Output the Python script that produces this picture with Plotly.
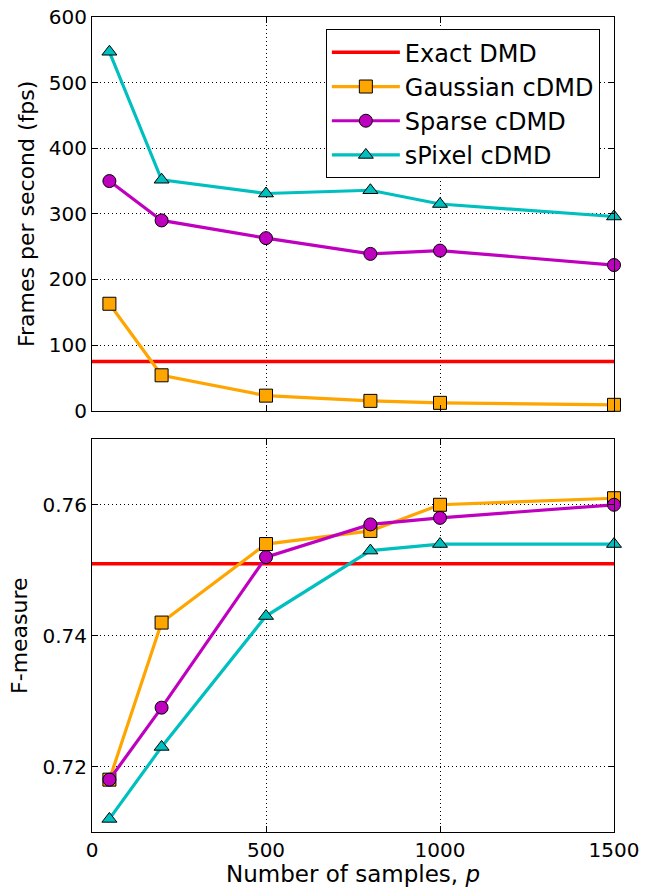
import plotly.graph_objects as go
from plotly.subplots import make_subplots

samples = [50, 200, 500, 800, 1000, 1500]
fps_exact = 75
fps_gaussian = [163, 54, 23, 15, 12, 9]
fps_sparse = [350, 290, 263, 239, 244, 222]
fps_spixel = [547, 352, 331, 336, 315, 296]

f_exact = 0.751
f_gaussian = [0.718, 0.742, 0.754, 0.756, 0.760, 0.761]
f_sparse = [0.718, 0.729, 0.752, 0.757, 0.758, 0.760]
f_spixel = [0.712, 0.723, 0.743, 0.753, 0.754, 0.754]

x_ticks = [0, 500, 1000, 1500]
fps_ticks = [0, 100, 200, 300, 400, 500, 600]
f_ticks = [0.72, 0.74, 0.76]

ORANGE = "#FFA500"
MAGENTA = "#BF00BF"
CYAN = "#00BFBF"
RED = "#FF0000"
FONT = "DejaVu Sans"

fig = make_subplots(rows=2, cols=1, shared_xaxes=False, vertical_spacing=0.035)

series = [
    ("Gaussian cDMD", fps_gaussian, f_gaussian, ORANGE, "square"),
    ("Sparse cDMD", fps_sparse, f_sparse, MAGENTA, "circle"),
    ("sPixel cDMD", fps_spixel, f_spixel, CYAN, "triangle-up"),
]

fig.add_trace(go.Scatter(x=[0, 1500], y=[fps_exact, fps_exact], mode="lines",
                         line=dict(color=RED, width=3.5), name="Exact DMD",
                         legendgroup="exact"), row=1, col=1)
fig.add_trace(go.Scatter(x=[0, 1500], y=[f_exact, f_exact], mode="lines",
                         line=dict(color=RED, width=3.5), name="Exact DMD",
                         legendgroup="exact", showlegend=False), row=2, col=1)

for name, fps, fm, color, sym in series:
    msize = 13
    fig.add_trace(go.Scatter(x=samples, y=fps, mode="lines+markers", name=name,
                             line=dict(color=color, width=3.2),
                             marker=dict(symbol=sym, size=msize, color=color,
                                         line=dict(color="black", width=1)),
                             legendgroup=name, cliponaxis=False), row=1, col=1)
    fig.add_trace(go.Scatter(x=samples, y=fm, mode="lines+markers", name=name,
                             line=dict(color=color, width=3.2),
                             marker=dict(symbol=sym, size=msize, color=color,
                                         line=dict(color="black", width=1)),
                             legendgroup=name, showlegend=False, cliponaxis=False),
                  row=2, col=1)

axis_common = dict(
    showline=True, linecolor="black", linewidth=1, mirror="allticks",
    ticks="inside", ticklen=6, tickcolor="black",
    showgrid=True, gridcolor="black", gridwidth=1, griddash="1px,3px",
    zeroline=False, tickfont=dict(family=FONT, size=20, color="black"),
)

fig.update_xaxes(range=[0, 1500], tickvals=x_ticks, **axis_common)
fig.update_xaxes(showticklabels=False, row=1, col=1)
fig.update_xaxes(title=dict(text="Number of samples, <i>p</i>",
                            font=dict(family=FONT, size=23, color="black"),
                            standoff=2), row=2, col=1)
fig.update_yaxes(**axis_common)
fig.update_yaxes(range=[0, 600], tickvals=fps_ticks,
                 title=dict(text="Frames per second (fps)",
                            font=dict(family=FONT, size=22, color="black"),
                            standoff=8), row=1, col=1)
fig.update_yaxes(range=[0.71, 0.77], tickvals=f_ticks, tickformat=".2f",
                 title=dict(text="F-measure",
                            font=dict(family=FONT, size=22, color="black"),
                            standoff=8), row=2, col=1)

fig.update_layout(
    width=654, height=887,
    margin=dict(l=92, r=40, t=17, b=55, autoexpand=False),
    plot_bgcolor="white", paper_bgcolor="white",
    font=dict(family=FONT, size=20, color="black"),
    legend=dict(x=0.448, y=0.985, xanchor="left", yanchor="top",
                bgcolor="white", bordercolor="black", borderwidth=1,
                font=dict(family=FONT, size=24, color="black"),
                itemwidth=68, tracegroupgap=0),
    showlegend=True,
)
fig.update_layout(yaxis=dict(domain=[0.5169, 1.0]), yaxis2=dict(domain=[0.0, 0.4818]))

fig.write_html("out.html", config={"displayModeBar": False},
               post_script="document.body.style.margin='0';")
